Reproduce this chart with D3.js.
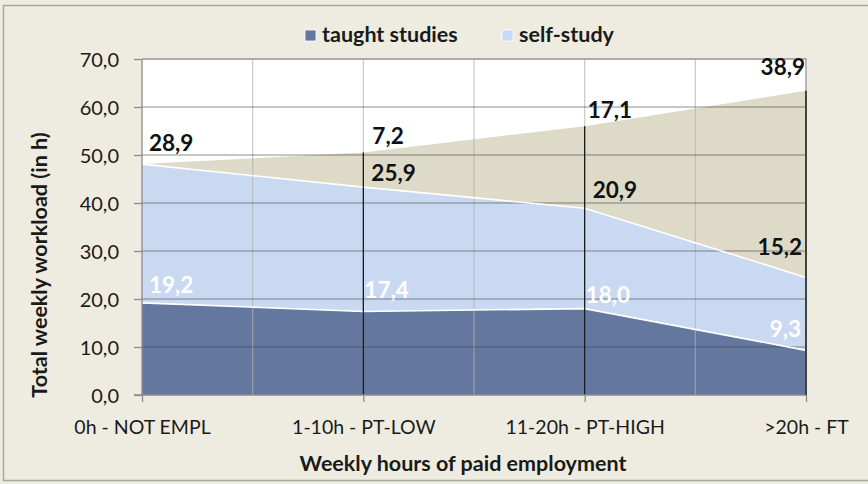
<!DOCTYPE html>
<html><head><meta charset="utf-8">
<script src="https://cdn.jsdelivr.net/npm/d3@7"></script>
<style>html,body{margin:0;padding:0;background:#eeece1;}svg{display:block;font-family:Lato,"Open Sans",sans-serif;}</style>
</head><body><svg id="c" width="868" height="484"></svg>
<script>
// ---- data ----
const categories = ["0h - NOT EMPL", "1-10h - PT-LOW", "11-20h - PT-HIGH", ">20h - FT"];
const taughtStudies = [19.2, 17.4, 18.0, 9.3];
const selfStudy = [28.9, 25.9, 20.9, 15.2];
const paidEmployment = [0, 7.2, 17.1, 38.9];
const yTicks = [0, 10, 20, 30, 40, 50, 60, 70];
const legendLabels = ["taught studies", "self-study"];
const xTitle = "Weekly hours of paid employment";
const yTitle = "Total weekly workload (in h)";

// ---- label nudges (style) ----
const nudgeTaught = [[7,-10],[1,-13],[1,-6],[-5,-13]];
const nudgeSelf = [[7,-13],[8,-6],[8,-10],[-4,-22]];
const nudgeEmp = [[0,0],[9,-9],[3,-8],[-1,-16]];

const colors = {taught:"#64779f", self:"#cad9f2", emp:"#dddac7"};
const fmt = v => d3.format(".1f")(v).replace(".", ",");

const svg = d3.select("#c");
svg.append("rect").attr("x",0).attr("y",0).attr("width",868).attr("height",484).attr("fill","#eeece1");
svg.append("rect").attr("x",3.5).attr("y",5.5).attr("width",900).attr("height",475)
  .attr("fill","none").attr("stroke","#a6a6a6").attr("stroke-width",1.5);

const L = 142, R = 806, T = 59, B = 395;
const x = d3.scalePoint().domain(categories).range([L, R]);
const y = d3.scaleLinear().domain([0, 70]).range([B, T]);

svg.append("rect").attr("x",L).attr("y",T).attr("width",R-L).attr("height",B-T).attr("fill","#fff");

const rows = categories.map((c,i)=>({cat:c, taught:taughtStudies[i], self:selfStudy[i], emp:paidEmployment[i]}));
const stack = d3.stack().keys(["taught","self","emp"])(rows);

const area = d3.area().x(d=>x(d.data.cat)).y0(d=>y(d[0])).y1(d=>y(d[1]));
const line = d3.line().x(d=>x(d.data.cat)).y(d=>y(d[1]));

const g = svg.append("g");
stack.forEach(s=>{
  g.append("path").datum(s).attr("d",area).attr("fill",colors[s.key]);
});

// gridlines on top
const step = x.step();
const vgrid = d3.range(0, 7).map(i => L + i*step/2);
g.selectAll(".vg").data(vgrid.slice(1)).join("line")
  .attr("x1",d=>d).attr("x2",d=>d).attr("y1",T).attr("y2",B)
  .attr("stroke","#b0b0b0").attr("stroke-opacity",0.65).attr("stroke-width",1.3);
g.selectAll(".hg").data(yTicks.slice(1)).join("line")
  .attr("x1",L).attr("x2",R).attr("y1",d=>y(d)).attr("y2",d=>y(d))
  .attr("stroke","#4a4a4a").attr("stroke-opacity",0.42).attr("stroke-width",1.3);

// white outlines on top of taught and self-study
stack.slice(0,2).forEach(s=>{
  g.append("path").datum(s).attr("d",line).attr("fill","none").attr("stroke","#fff").attr("stroke-width",1.6);
});

// drop lines
const topS = stack[2];
g.selectAll(".drop").data(topS.slice(1)).join("line")
  .attr("x1",d=>x(d.data.cat)).attr("x2",d=>x(d.data.cat))
  .attr("y1",d=>y(d[1])).attr("y2",B).attr("stroke","#111").attr("stroke-width",1.2);

// axes
const yAxis = d3.axisLeft(y).tickValues(yTicks).tickSize(8).tickPadding(15).tickFormat(fmt);
const ya = svg.append("g").attr("transform",`translate(${L},0)`).call(yAxis);
ya.select(".domain").attr("stroke","#8c8c8c").attr("stroke-width",1.3).attr("d",`M-8,${B}H0V${T}`);
ya.selectAll(".tick line").attr("stroke","#8c8c8c").attr("stroke-width",1.3);
ya.selectAll(".tick text").attr("font-size","20px").attr("fill","#1a1a1a").attr("font-family","Lato").attr("dy","0.36em");

const xAxis = d3.axisBottom(x).tickSize(7).tickPadding(18);
const xa = svg.append("g").attr("transform",`translate(0,${B})`).call(xAxis);
xa.select(".domain").attr("stroke","#8c8c8c").attr("stroke-width",1.3).attr("d",`M${L},0H${R}`);
xa.selectAll(".tick line").attr("stroke","#8c8c8c").attr("stroke-width",1.3);
xa.selectAll(".tick text").attr("font-size","19.5px").attr("fill","#1a1a1a").attr("font-family","Lato");

// top & right frame
svg.append("path").attr("d",`M${L},${T}H${R}V${B}`).attr("fill","none").attr("stroke","#a6a6a6").attr("stroke-width",1.3);
svg.append("line").attr("x1",R).attr("x2",R).attr("y1",y(topS[3][1])).attr("y2",B).attr("stroke","#111").attr("stroke-width",1.2);

// data labels
function labels(s, nudge, color){
  s.forEach((d,i)=>{
    const v = d[1]-d[0];
    if (v === 0) return;
    const last = i === s.length-1;
    svg.append("text").attr("x", x(d.data.cat)+nudge[i][0]).attr("y", y(d[1])+nudge[i][1])
      .attr("text-anchor", last ? "end" : "start")
      .attr("font-size","22.5px").attr("font-weight","bold").attr("fill",color).text(fmt(v));
  });
}
labels(stack[0], nudgeTaught, "#ffffff");
labels(stack[1], nudgeSelf, "#111111");
labels(stack[2], nudgeEmp, "#111111");

// legend
const legX = [305, 502];
const legC = [colors.taught, colors.self];
legendLabels.forEach((t,i)=>{
  svg.append("rect").attr("x",legX[i]).attr("y",30).attr("width",11).attr("height",11)
    .attr("fill",legC[i]).attr("stroke","#fff").attr("stroke-width",0.8);
  svg.append("text").attr("x",legX[i]+17).attr("y",42).attr("font-size","21.5px").attr("font-weight","bold")
    .attr("fill","#1a1a1a").text(t);
});

// titles
svg.append("text").attr("x",463).attr("y",471).attr("text-anchor","middle").attr("font-size","21.5px")
  .attr("font-weight","bold").attr("fill","#1a1a1a").text(xTitle);
svg.append("text").attr("transform","translate(47,265) rotate(-90)").attr("text-anchor","middle")
  .attr("font-size","21.5px").attr("font-weight","bold").attr("fill","#1a1a1a").text(yTitle);
</script></body></html>
